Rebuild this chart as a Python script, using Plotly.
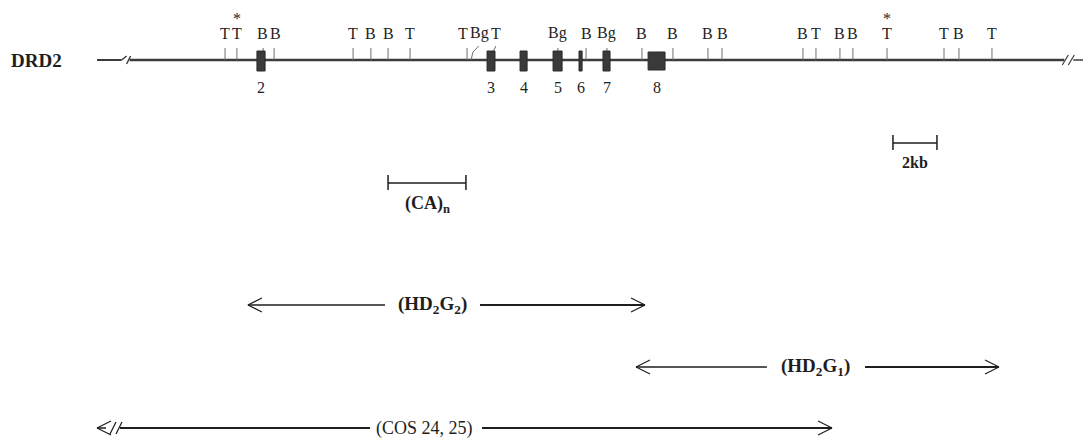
import plotly.graph_objects as go

# ---------------- data (map coordinates in kb) ----------------
GENE_NAME = "DRD2"
GENE_START, GENE_END = 0.0, 44.9
LEFT_BREAK, RIGHT_BREAK = 1.3, 44.15

# restriction sites: label, position (kb), starred
SITE_LABELS = ["T", "T", "B", "B", "T", "B", "B", "T", "T", "Bg", "T", "Bg", "B", "Bg",
               "B", "B", "B", "B", "B", "T", "B", "B", "T", "T", "B", "T"]
SITE_POS = [5.82, 6.36, 7.55, 8.05, 11.64, 12.45, 13.23, 14.23, 16.82, 17.0, 18.0, 20.95,
            22.23, 23.18, 24.77, 26.18, 27.77, 28.41, 32.09, 32.68, 33.77, 34.36, 35.91,
            38.5, 39.18, 40.68]
SITE_STAR = [False, True] + [False] * 20 + [True] + [False] * 3
# label position where the label is displaced from the site (TBgT cluster)
SITE_LABEL_POS = list(SITE_POS)
SITE_LABEL_POS[8], SITE_LABEL_POS[9], SITE_LABEL_POS[10] = 16.64, 17.4, 18.13
SITE_LABEL_POS[2], SITE_LABEL_POS[3] = 7.5, 8.1

# exons: number, start, end (kb)
EXON_NUM = ["2", "3", "4", "5", "6", "7", "8"]
EXON_START = [7.27, 17.73, 19.23, 20.73, 21.91, 23.0, 25.05]
EXON_END = [7.64, 18.09, 19.55, 21.14, 22.05, 23.32, 25.82]

# scale bar and (CA)n
SCALE_START, SCALE_END, SCALE_LABEL = 36.18, 38.18, "2kb"
CA_START, CA_END, CA_LABEL = 13.23, 16.77, "(CA)<sub>n</sub>"

# clones: label, start, end, label centre, gap left, gap right
CLONE_LABELS = ["(HD<sub>2</sub>G<sub>2</sub>)", "(HD<sub>2</sub>G<sub>1</sub>)", "(COS 24, 25)"]
CLONE_START = [6.86, 24.5, 0.0]
CLONE_END = [24.91, 41.0, 33.41]
CLONE_TEXT_X = [15.27, 32.64, 14.9]
CLONE_GAP_L = [13.09, 30.45, 12.41]
CLONE_GAP_R = [17.41, 34.91, 17.5]
CLONE_BROKEN = [False, False, True]

# ---------------- layout helpers ----------------
PAGE_OFFSET = 8         # default body margin of the html page
PX = 1 / 22.0           # one pixel in kb
X0 = -(97 - PAGE_OFFSET) * PX   # left edge of the figure
Y_GENE, Y_SITE_LBL, Y_STAR, Y_EXON_NUM = 60, 33, 18, 87
Y_SCALE, Y_CA = 143, 183
Y_CLONE = [305, 367, 428]
FONT = "Liberation Serif"
INK = "#1e1e1e"

shapes = []
ann = []


def line(x0, y0, x1, y1, color=INK, width=1.5):
    shapes.append(dict(type="line", xref="x", yref="y", x0=x0, y0=y0, x1=x1, y1=y1,
                       line=dict(color=color, width=width)))


def text(x, y, s, size=15, bold=False, xanchor="center"):
    if bold:
        s = "<b>" + s + "</b>"
    ann.append(dict(x=x, y=y, xref="x", yref="y", text=s, showarrow=False,
                    xanchor=xanchor, yanchor="middle",
                    font=dict(family=FONT, size=size, color=INK)))


def break_mark(x, y, color=INK, width=1.5):
    for dx in (-3 * PX, 3 * PX):
        line(x + dx - 3 * PX, y + 5, x + dx + 3 * PX, y - 5, color, width)


# ---------------- gene line ----------------
GC = "#3c3c3c"
line(GENE_START, Y_GENE, LEFT_BREAK - 4 * PX, Y_GENE, GC, 2)
line(LEFT_BREAK - 4 * PX, Y_GENE, LEFT_BREAK + 1 * PX, Y_GENE - 4, GC, 1.5)
line(LEFT_BREAK + 1 * PX, Y_GENE + 4, LEFT_BREAK + 5 * PX, Y_GENE - 4, GC, 1.5)
line(LEFT_BREAK + 4 * PX, Y_GENE, RIGHT_BREAK - 4 * PX, Y_GENE, GC, 2.5)
break_mark(RIGHT_BREAK, Y_GENE, GC, 1.2)
line(RIGHT_BREAK + 5 * PX, Y_GENE, GENE_END, Y_GENE, GC, 1.5)
text(X0 + (36 - PAGE_OFFSET) * PX, Y_GENE, GENE_NAME, size=19, bold=True)

# sites
for lab, pos, lpos, star in zip(SITE_LABELS, SITE_POS, SITE_LABEL_POS, SITE_STAR):
    if abs(lpos - pos) > 0.1 and lab == "Bg":
        line(pos, Y_GENE, pos + 2 * PX, Y_GENE - 8, "#707070", 1)
        line(pos + 2 * PX, Y_GENE - 8, lpos - 1 * PX, Y_GENE - 14, "#707070", 1)
    elif abs(lpos - pos) > 0.1 and lpos > pos:
        line(pos, Y_GENE - 4, pos + 1 * PX, Y_GENE - 10, "#707070", 1)
        line(pos + 1 * PX, Y_GENE - 10, lpos, Y_GENE - 14, "#707070", 1)
    else:
        line(pos, Y_GENE, pos, Y_GENE - 12, "#707070", 1)
    text(lpos, Y_SITE_LBL, lab, size=16)
    if star:
        text(pos, Y_STAR, "*", size=16)

# exons
for num, s, e in zip(EXON_NUM, EXON_START, EXON_END):
    big = (e - s) > 0.6
    shapes.append(dict(type="rect", xref="x", yref="y", x0=s, x1=e,
                       y0=Y_GENE - (8 if big else 9), y1=Y_GENE + (10 if big else 11),
                       fillcolor="#3a3a3a", line=dict(color="#2a2a2a", width=1)))
    text((s + e) / 2, Y_EXON_NUM, num, size=16)

# scale bar and (CA)n bar
for (s, e, y, lab, ty, fs) in [(SCALE_START, SCALE_END, Y_SCALE, SCALE_LABEL, Y_SCALE + 19, 16),
                               (CA_START, CA_END, Y_CA, CA_LABEL, Y_CA + 21, 18)]:
    line(s, y, e, y, INK, 1.5)
    line(s, y - 8, s, y + 7, INK, 1.5)
    line(e, y - 8, e, y + 7, INK, 1.5)
    text((s + e) / 2, ty, lab, size=fs, bold=True)

# clones
AH_X, AH_Y = 14 * PX, 7
for lab, s, e, tx, gl, gr, brk, y in zip(CLONE_LABELS, CLONE_START, CLONE_END, CLONE_TEXT_X,
                                          CLONE_GAP_L, CLONE_GAP_R, CLONE_BROKEN, Y_CLONE):
    if brk:
        line(s, y, s + 9 * PX, y, INK, 1.5)
        line(s + 23 * PX, y, gl, y, INK, 1.8)
        line(s + 13 * PX, y + 6, s + 19 * PX, y - 6, INK, 1.3)
        line(s + 19 * PX, y + 6, s + 25 * PX, y - 6, INK, 1.3)
    else:
        line(s, y, gl, y, INK, 1.5)
    line(gr, y, e, y, INK, 1.8)
    line(s, y, s + AH_X, y - AH_Y, INK, 1.2)
    line(s, y, s + AH_X, y + AH_Y, INK, 1.2)
    line(e, y, e - AH_X, y - AH_Y, INK, 1.2)
    line(e, y, e - AH_X, y + AH_Y, INK, 1.2)
    text(tx, y, lab, size=19 if not brk else 18, bold=not brk)

fig = go.Figure()
fig.update_layout(
    width=1091, height=438,
    margin=dict(l=0, r=0, t=0, b=0),
    paper_bgcolor="white", plot_bgcolor="white",
    xaxis=dict(range=[X0, X0 + 1091 * PX], visible=False, fixedrange=True),
    yaxis=dict(range=[438 + PAGE_OFFSET, PAGE_OFFSET], visible=False, fixedrange=True),
    shapes=shapes, annotations=ann, showlegend=False,
)
fig.write_html("out.html")
